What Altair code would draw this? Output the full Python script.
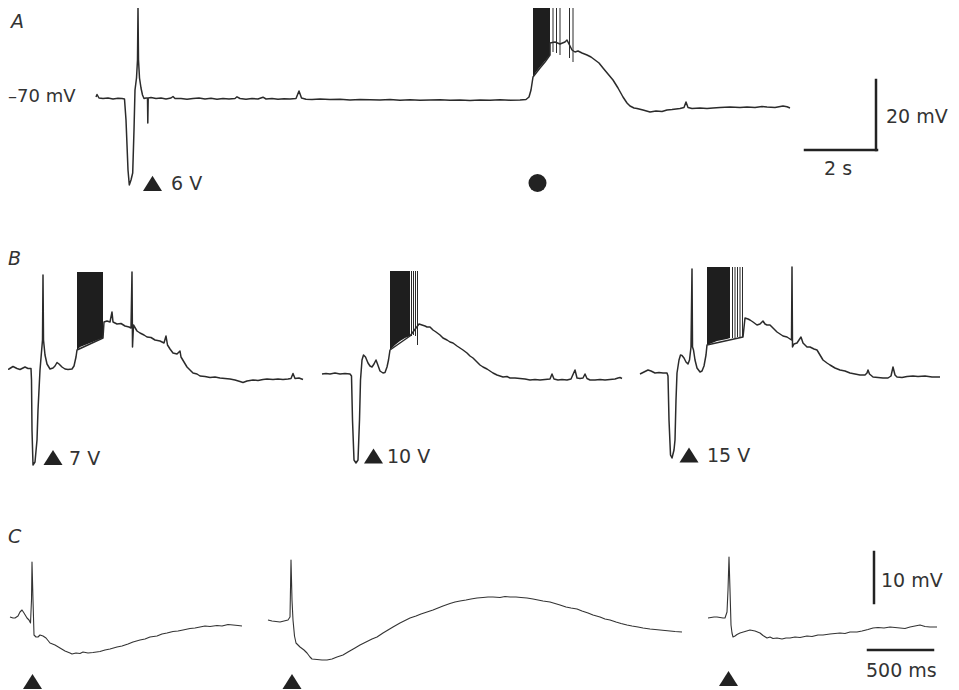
import altair as alt
import pandas as pd

# ---- trace readings (page-like coordinates: x to the right, y downwards) ----
A_TRACE = [(96,97),(97,94.5),(99,98),(103,98.5),(108,98),(113,99),(118,98.3),(122,98.6),(124.5,99),(126,120),(128,170),(129.3,185),(131,180),(132.7,173),(134,130),(135,90),(136.5,78),(137.5,60),(138,8),(138.5,60),(139.5,78),(141,88),(142.5,95),(144,98.5),(146,98),(147.5,98),(147.8,123),(148.2,98),(151,97.5),(156,98.5),(161,98),(166,99),(171,98),(173,96.5),(175,98.5),(181,98.5),(187,99.3),(193,98.5),(199,98),(205,99),(211,98.3),(217,99.3),(223,98.5),(229,99),(235,98.5),(237,96.8),(240,98.5),(246,99.3),(252,98.5),(258,99),(263,97.2),(266,99),(272,98.5),(278,99.3),(284,98.7),(290,99),(296,98.5),(299,91),(301.5,98),(306,99.2),(312,99.5),(320,99),(330,99.5),(340,99.2),(350,100),(360,99.5),(370,99.8),(380,100),(390,99.5),(400,100.2),(410,99.8),(420,100.3),(430,100),(440,99.7),(450,100.3),(460,100),(470,100.5),(480,100),(490,100.3),(500,99.8),(510,100.2),(520,100),(526,99.5),(529,97),(531,90),(533,77),(540,68),(545,62),(550,55),(550,43),(555,42),(560,44),(565,42),(567,40),(569,44),(572,50),(575,52),(578,51),(582,53),(587,55),(591,57),(595,60),(599,63),(603,68),(608,74),(613,80),(618,88),(623,97),(627,103),(630,106),(634,108),(637,108.5),(643,110),(650,112),(656,111),(662,111.5),(667,110),(672,109.5),(680,108.5),(684,107.5),(686,102),(688,107.5),(692,108.5),(700,108),(707,108.5),(713,108),(720,107.5),(730,107),(740,107.5),(747,107),(755,107.5),(762,106.5),(767,107),(775,107.5),(783,106),(787,106.8),(790,108)]

B1_TRACE = [(5,370),(9,369),(13,366.5),(17,368.5),(20,369.5),(23,368),(25,367),(28,368.5),(31,368.5),(31.5,380),(32,430),(33,465),(35,462),(37,440),(38,410),(40,370),(41.5,352),(42.5,340),(43,275),(43.5,340),(45,355),(47,364),(50,369),(53,368),(55,366),(57,362.5),(59,364),(62,367),(65,369),(68,369.5),(72,369),(74,366),(76,357),(77,350),(103,338),(104,322),(107,321),(110,322),(112,312),(113,322),(117,324),(121,323.5),(125,326),(129,327),(131,328),(132,272),(132.5,347),(133.5,325),(137,331),(140,333),(144,335),(147,337),(151,337.5),(155,340),(160,341),(164,343),(166,336),(167.5,345),(170,349),(173,353),(177,354),(180,351),(181,357),(184,362),(187,367),(190,370),(193,373),(197,374),(200,376),(205,376.5),(210,377.5),(215,377),(220,378),(225,378.5),(230,379),(235,380),(240,381.5),(243,382.5),(247,381),(253,380),(258,380.5),(263,379.5),(267,379),(273,379.5),(278,379),(283,379.5),(288,379),(291,378.5),(293,373.5),(295,378.5),(299,378),(303,379.5)]

B2_TRACE = [(322,374),(326,373.5),(330,374),(335,373),(340,374),(345,373.5),(350,374),(351.5,376),(352.5,420),(354,460),(356,463),(358,460),(359.5,420),(360.5,380),(362,360),(363.5,355),(365.5,357),(368,363),(370,366),(372,367),(374,364),(376,360),(377.5,364),(380,371),(383,373),(385,372.5),(387,367),(388.5,360),(390,350),(410,336),(419,324),(422,325),(425,326),(427,327),(430,327),(433,330),(436,332),(440,335),(443,338),(447,340),(450,342),(453,343),(457,346),(460,348),(463,350),(467,353),(470,356),(473,358),(477,362),(480,365),(483,367),(487,369),(490,371),(493,373),(497,375),(500,376),(503,377),(507,376.5),(510,378),(515,378),(520,378.5),(525,379),(530,380),(535,379.5),(540,380),(545,379.5),(550,379),(552,374),(554,379),(558,380),(562,379.5),(567,380),(571,379),(575,370),(577,378),(580,378.5),(583,378),(585,374),(587,378.5),(590,380),(595,380),(600,379.5),(605,380),(610,379.5),(615,379),(618,378),(620,377.5),(622,378.5)]

B3_TRACE = [(640,374),(644,372),(648,370),(651,371),(655,373),(659,372.5),(663,373),(667,373),(668,376),(669,420),(670.5,455),(672,458),(674,450),(675,440),(676,400),(677,373),(679,360),(680.5,355),(682,355.5),(684,358),(686,362),(688,364),(689.5,360),(691,347),(692,269),(692.5,347),(693.5,350),(695,360),(697,368),(700,372),(702,371),(704,366),(706,355),(707,345),(743,337),(745,318),(748,319),(750,320),(753,322),(757,325),(760,324),(763,321),(765,324),(767,325),(770,325),(773,328),(777,332),(780,334),(783,336),(787,337),(790,339),(791.5,340),(792,267),(792.5,347),(794,344),(797,343),(799,340),(801,337),(803,343),(807,347),(810,347),(814,349),(817,350),(820,355),(823,360),(827,363),(830,365),(835,368),(840,370),(845,371),(850,373),(855,374),(860,375),(865,375),(867,373),(868,370),(869.5,374),(873,377),(878,377.5),(883,378),(888,378),(891,376),(893,367),(895,375),(897,377),(902,377.5),(907,376.5),(913,376),(918,376.5),(925,376),(932,377),(940,377)]

C1_TRACE = [(10,617),(13,618),(15,618),(18,616),(20,612),(22,610),(24,613),(27,618),(29,620),(30.5,623),(31.5,600),(32,562),(33,600),(34,635),(36,637),(38,637),(40,635),(43,636),(46,638),(50,643),(55,645),(60,648),(65,651),(70,653),(72,654),(76,653),(80,653.5),(83,652),(88,653),(93,652.5),(100,651.5),(105,650),(110,649),(117,647),(122,646),(128,644),(133,642),(140,640),(145,639),(150,637),(157,636),(162,634),(167,633),(173,631.5),(178,631),(183,630),(190,628.5),(195,628),(200,627),(205,626),(210,626.5),(217,625.5),(222,626),(228,624.5),(233,625),(238,625.5),(242,626)]

C2_TRACE = [(268,620),(272,621),(276,621.5),(280,622),(284,621),(288,620),(290,617),(291,560),(292,600),(293,620),(294.5,636),(296,643),(300,647),(304,650),(307,653),(310,657),(312,659),(317,659.5),(322,660),(327,660),(332,659),(337,657),(343,655),(348,652),(355,648),(360,645),(366,642),(372,639),(377,637),(383,633),(388,630),(393,627),(400,623),(405,620.5),(410,618),(416,616),(421,614),(427,612),(433,610),(438,608),(443,606),(450,603.5),(455,602),(460,601),(466,600),(471,599),(477,598),(483,597.5),(488,597),(493,597),(500,597.5),(505,596.5),(510,597),(516,597),(521,597.5),(527,598),(533,599),(538,600),(543,601),(550,602),(555,603.5),(560,605),(566,607),(571,608),(577,609),(582,611),(588,613),(593,615),(600,617),(605,619),(610,620),(616,622),(621,623.5),(627,625),(632,626),(638,627),(643,628),(650,629),(655,629.5),(660,630),(665,630.5),(670,631),(675,631.5),(682,632)]

C3_TRACE = [(708,618),(711,617.5),(714,617),(717,617),(720,617.5),(723,618),(725,618),(727,612),(728,590),(729,557),(730,590),(731,625),(732,633),(733,637),(735,636),(737,634.5),(740,633),(745,631.5),(750,630),(755,631),(760,633),(763,635.5),(767,638),(770,637),(773,638.5),(777,638),(782,639),(786,638),(790,638),(795,637),(800,637.5),(807,636),(812,636.5),(818,635),(823,635),(830,634),(835,633.5),(840,633),(845,633.5),(850,632),(857,632),(862,631),(868,629.5),(873,628),(878,627.5),(884,628),(890,627),(895,627.5),(900,628),(905,628.5),(910,627),(915,626),(920,625),(925,626.5),(930,627),(937,627)]

# dense spike bursts: (x, top, bottom)
A_BURST = [(533,6,77),(536,6,72),(540,6,67),(545,6,61),(550,6,55)]
B1_BURST = [(77,272,350),(80,272,347),(85,272,345),(90,272,343),(95,272,341),(100,272,339),(103,272,338)]
B2_BURST = [(390,271,350),(395,271,345),(400,271,341),(405,271,338),(410,271,336)]
B3_BURST = [(707,267,345),(712,267,343),(717,267,341),(722,267,340),(727,267,339),(730,267,338)]

# isolated spikes: (x, top, bottom)
SPIKES = [(553,6,52),(556.5,6,53),(560,6,55),(569.5,6,58),(573,6,62),
          (411.5,271,336),(413.5,271,335),(415.5,271,336),(417.5,271,345),
          (732.5,267,338),(735,267,338),(737.5,267,337),(740,267,338),(742.5,267,337)]

# calibration bars: (x, x2, y, y2)
CAL_BARS = [(876,876,80,150),(805,877,150,150),(874,874,552,603),(868,933,650,650)]

# stimulus markers
TRI_X = [152.5, 53, 373.5, 689, 32.5, 292, 728.5]
TRI_Y = [183.3, 457.5, 456, 455, 681.5, 681.5, 678.5]
DOT_X = [537.5]
DOT_Y = [183]

# labels: (text, x, baseline y, size)
LABELS = [("\u201370 mV", 8, 102, 18), ("6 V", 171, 190, 19), ("20 mV", 886, 123, 19), ("2 s", 824, 175, 19),
          ("7 V", 69, 465, 19), ("10 V", 387, 463, 19), ("15 V", 707, 462, 19),
          ("10 mV", 881, 587, 19), ("500 ms", 866, 677, 19)]
PANELS = [("A", 11, 28), ("B", 8, 265), ("C", 8, 543)]

INK = "#2b2b2b"
FONT = "DejaVu Sans"

# ---- build tables ----
rows = []
for name, tr in [("A", A_TRACE), ("B1", B1_TRACE), ("B2", B2_TRACE), ("B3", B3_TRACE),
                 ("C1", C1_TRACE), ("C2", C2_TRACE), ("C3", C3_TRACE)]:
    for i, (x, y) in enumerate(tr):
        rows.append({"trace": name, "panel": name[0], "i": i, "x": x, "y": y})
lines_df = pd.DataFrame(rows)

brows = []
for name, b in [("A", A_BURST), ("B1", B1_BURST), ("B2", B2_BURST), ("B3", B3_BURST)]:
    for x, t, btm in b:
        brows.append({"burst": name, "x": x, "top": t, "bottom": btm})
burst_df = pd.DataFrame(brows)

spike_df = pd.DataFrame(SPIKES, columns=["x", "top", "bottom"])
cal_df = pd.DataFrame(CAL_BARS, columns=["x", "x2", "y", "y2"])
tri_df = pd.DataFrame({"x": TRI_X, "y": TRI_Y})
dot_df = pd.DataFrame({"x": DOT_X, "y": DOT_Y})
lab_df = pd.DataFrame(LABELS, columns=["text", "x", "y", "size"])
pan_df = pd.DataFrame(PANELS, columns=["text", "x", "y"])

xs = alt.Scale(domain=[8, 951], nice=False, zero=False)
ys = alt.Scale(domain=[8, 690], nice=False, zero=False, reverse=True)
X = lambda f: alt.X(f, type="quantitative", scale=xs, axis=None)
Y = lambda f: alt.Y(f, type="quantitative", scale=ys, axis=None)

base_lines = alt.Chart(lines_df)
lines_ab = base_lines.transform_filter(alt.datum.panel != "C").mark_line(
    color=INK, strokeWidth=1.5, strokeJoin="round").encode(
    x=X("x"), y=Y("y"), detail="trace:N", order="i:Q")
lines_c = base_lines.transform_filter(alt.datum.panel == "C").mark_line(
    color="#333", strokeWidth=1.1, strokeJoin="round").encode(
    x=X("x"), y=Y("y"), detail="trace:N", order="i:Q")

bursts = alt.Chart(burst_df).mark_area(color="#1e1e1e", opacity=1).encode(
    x=X("x"), y=Y("top"), y2="bottom:Q", detail="burst:N")

spikes = alt.Chart(spike_df).mark_rule(color=INK, strokeWidth=1).encode(
    x=X("x"), y=Y("top"), y2="bottom:Q")

cal = alt.Chart(cal_df).mark_rule(color="#222", strokeWidth=2.5, strokeCap="square").encode(
    x=X("x"), x2="x2:Q", y=Y("y"), y2="y2:Q")

tris = alt.Chart(tri_df).mark_point(shape="M-1,0.8L1,0.8L0,-0.8Z", filled=True, size=361,
                                    color="#222", opacity=1, strokeWidth=0).encode(
    x=X("x"), y=Y("y"))

dots = alt.Chart(dot_df).mark_point(shape="circle", filled=True, size=324,
                                    color="#222", opacity=1, strokeWidth=0).encode(
    x=X("x"), y=Y("y"))

labels = alt.Chart(lab_df).mark_text(align="left", baseline="alphabetic", font=FONT,
                                     color="#333").encode(
    x=X("x"), y=Y("y"), text="text:N",
    size=alt.Size("size:Q", scale=None, legend=None))

panels = alt.Chart(pan_df).mark_text(align="left", baseline="alphabetic", font=FONT,
                                     fontSize=19, fontStyle="italic", color="#333").encode(
    x=X("x"), y=Y("y"), text="text:N")

chart = alt.layer(bursts, lines_ab, lines_c, spikes, cal, tris, dots, labels, panels).properties(
    width=943, height=682, padding=0, autosize=alt.AutoSizeParams(type="none"),
    background="white"
).configure_view(stroke=None)

chart.save("out.html", embed_options={"renderer": "svg", "actions": False})
